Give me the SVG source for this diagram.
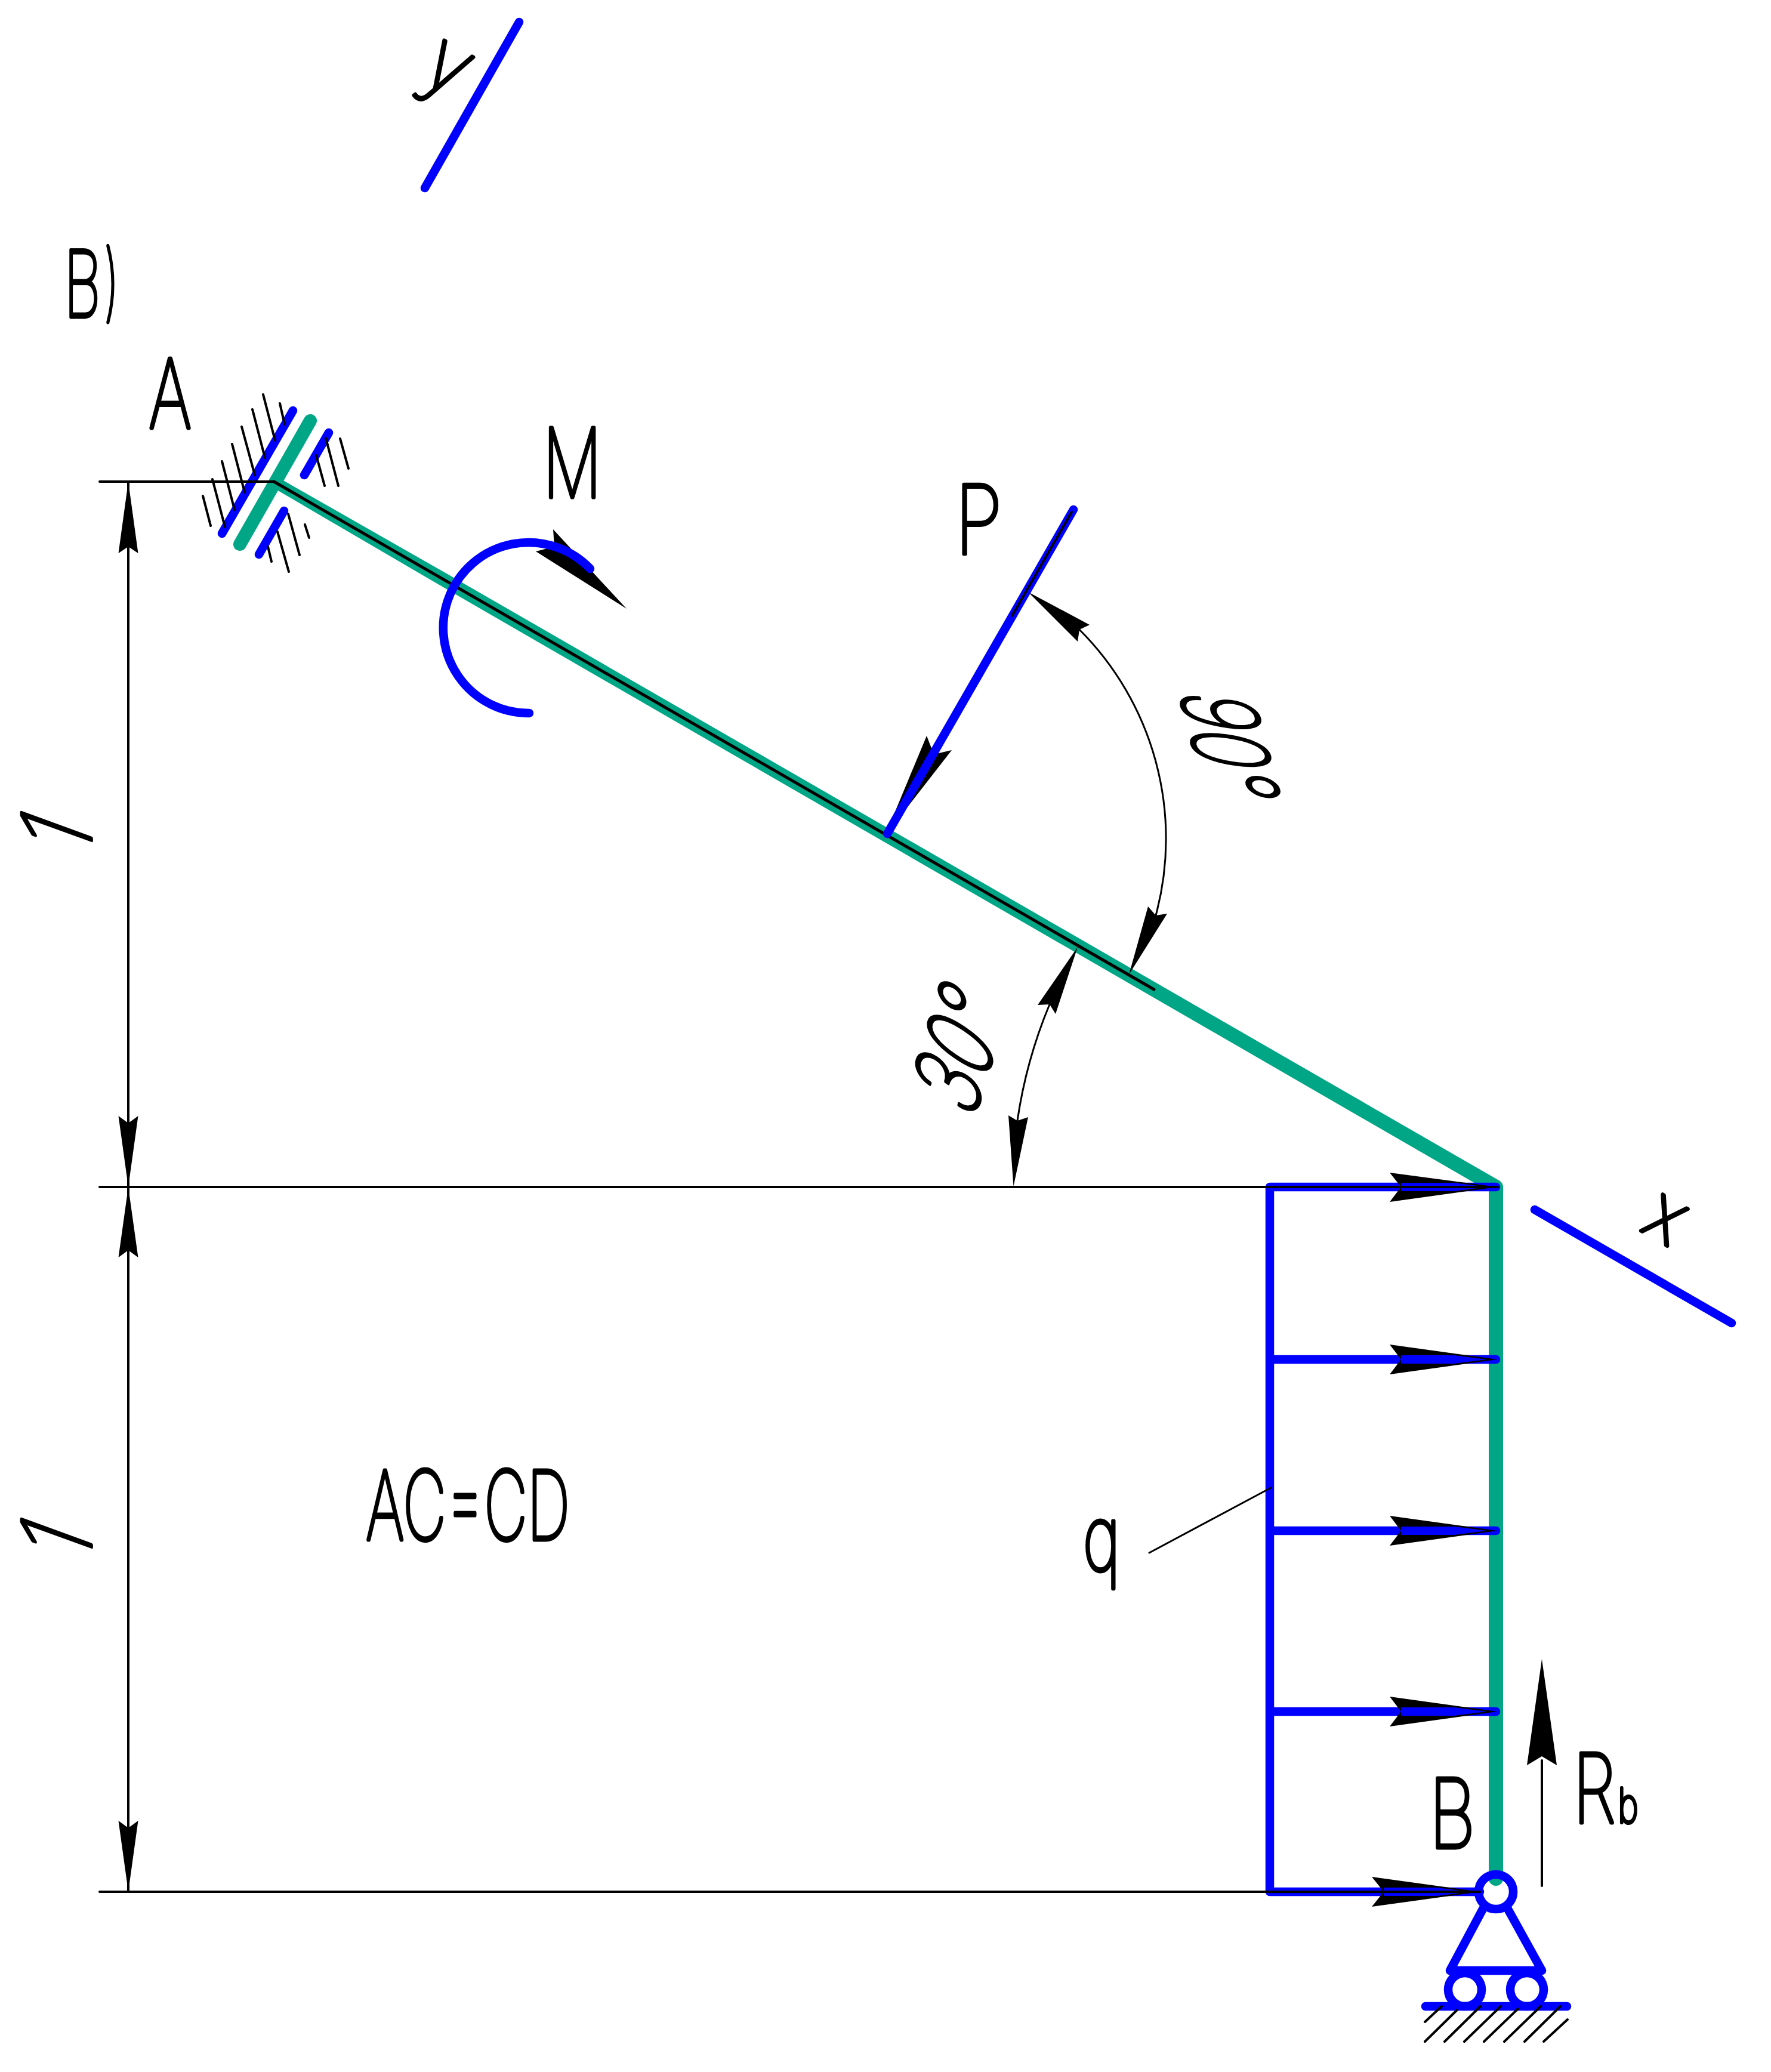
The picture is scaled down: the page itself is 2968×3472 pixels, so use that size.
<svg xmlns="http://www.w3.org/2000/svg" width="2968" height="3472" viewBox="0 0 2968 3472">
<style>
.bg{fill:#fff}
.g{fill:none;stroke:#00A685;stroke-width:24;stroke-linecap:round;stroke-linejoin:round}
.gf{fill:#00A685}
.b{fill:none;stroke:#0000FF;stroke-width:14.500;stroke-linecap:round;stroke-linejoin:round}
.k{fill:none;stroke:#000;stroke-width:4;stroke-linecap:round}
.t{fill:none;stroke:#000;stroke-width:3;stroke-linecap:round}
.h{fill:none;stroke:#000;stroke-width:4;stroke-linecap:round}
.a{fill:#000}
.w{fill:#0000FF}
text{font-family:"Inter","Liberation Sans",sans-serif;font-weight:100;font-size:160px;fill:#000;stroke:#000;stroke-width:6;stroke-linejoin:round;stroke-linecap:round;vector-effect:non-scaling-stroke}
.m{text-anchor:middle}
</style>
<rect class="bg" width="2968" height="3472"/>
<g id="support-a">
<path class="b" d="M491 688L372 894M551 725L510 796M476 856L434 929"/>
<path class="g" style="stroke-width:22" d="M520 705L402 912"/>
<path class="h" d="M441 661L461 738M469 676L477 711M423 686L444 767M405 715L427 796M389 744L410 825M372 773L393 854M356 803L377 883M340 831L353 881M570 735L584 785M546 734L567 814M530 763L544 814M483 861L502 930M465 891L484 958M449 916L455 941M511 879L518 901"/>
</g>
<g id="beam">
<circle cx="2507" cy="3170" r="29" fill="#fff"/>
<polygon class="gf" points="454.250,815.200 463.750,798.800 745.650,959.500 2513,1978.600 2501,1999.400 734.350,979.100"/>
<path class="g" d="M2507 1989V3148"/>
<path class="k" style="stroke-width:5" d="M459 807L1934 1658"/>
</g>
<g id="support-b">
<path class="b" d="M2485 3199L2430 3302M2527 3199L2584 3302M2430 3302H2584M2389 3362H2626"/>
<circle class="b" cx="2507" cy="3170" r="29"/>
<circle class="b" cx="2455" cy="3334" r="28"/>
<circle class="b" cx="2559" cy="3334" r="28"/>
<path class="h" d="M2416 3362L2388 3388M2442 3368L2388 3421M2481 3362L2421 3421M2515 3362L2454 3421M2544 3366L2487 3421M2582 3362L2521 3421M2615 3362L2555 3421M2627 3384L2587 3421"/>
</g>
<g id="connectors">
<g id="axes">
<path class="b" d="M870 37L712 315"/>
<path class="b" d="M2572 2027L2902 2217"/>
</g>
<g id="load-q">
<path class="b" d="M2128 1989V3170M2128 1989H2507M2128 2278H2507M2128 2565H2507M2128 2868H2507M2128 3170H2480"/>
<polygon class="a" points="2509,1989 2329,2014 2348,1989 2329,1965"/>
<polygon class="a" points="2509,2278 2329,2303 2348,2278 2329,2253"/>
<polygon class="a" points="2509,2565 2329,2590 2348,2565 2329,2540"/>
<polygon class="a" points="2509,2868 2329,2893 2348,2868 2329,2843"/>
<polygon class="a" points="2480,3170 2299,3195 2319,3170 2299,3145"/>
<polygon class="w" points="2348,1982 2437,1982 2492,1989 2437,1996 2348,1996"/>
<polygon class="w" points="2348,2271 2437,2271 2492,2278 2437,2285 2348,2285"/>
<polygon class="w" points="2348,2558 2437,2558 2492,2565 2437,2572 2348,2572"/>
<polygon class="w" points="2348,2861 2437,2861 2492,2868 2437,2875 2348,2875"/>
<polygon class="w" points="2319,3163 2408,3163 2463,3170 2408,3177 2319,3177"/>
</g>
<g id="dimensions">
<path class="k" d="M167 807H459M167 1989H2510M167 3170H2480M215 807V3170"/>
<polygon class="a" points="215,807 231.500,927 215,916 198.500,927"/>
<polygon class="a" points="215,1989 231.500,1870 215,1882 198.500,1870"/>
<polygon class="a" points="215,1989 231.500,2107 215,2095 198.500,2107"/>
<polygon class="a" points="215,3170 231.500,3051 215,3063 198.500,3051"/>
<path class="t" d="M1809 1055A495 495 0 0 1 1937 1534"/>
<polygon class="a" points="1723,992 1826,1047 1809,1055 1806,1075"/>
<polygon class="a" points="1892,1633 1924,1519 1937,1534 1956,1531"/>
<path class="t" d="M1759 1683A808 808 0 0 0 1705 1878"/>
<polygon class="a" points="1806,1587 1739,1684 1759,1683 1769,1699"/>
<polygon class="a" points="1698.500,1988 1690,1869 1705,1878 1723,1872"/>
<path class="t" d="M1926 2602L2130 2493"/>
</g>
<g id="force-p">
<polygon class="a" points="1483,1401 1553,1233 1565,1264 1595,1257"/>
<path class="b" d="M1799 854L1487 1397"/>
<path class="k" d="M1796 858L1696 1032"/>
</g>
<g id="moment-m">
<polygon class="a" points="1050,1020 927,887 929,916 898,924"/>
<path class="b" d="M887 1195A143 143 0 1 1 989 953"/>
</g>
<g id="reaction-rb">
<path class="k" d="M2584 2950V3160"/>
<polygon class="a" points="2584,2780 2609,2958 2584,2943 2559,2958"/>
</g>
</g>
<g id="labels">
<text id="label-v" transform="translate(107,531) scale(.55,1)"><tspan font-size="205">в</tspan><tspan font-size="141" dy="-10" dx="10">)</tspan></text>
<text id="label-y" class="m" style="font-size:142px" transform="translate(742,128) rotate(30) scale(.9,1)" y="24">y</text>
<text id="label-x" class="m" style="font-size:130px" transform="translate(2790,2044) rotate(30) scale(.9,1)" y="36">x</text>
<text id="label-A" class="m" transform="translate(285,717) scale(.7,1)">A</text>
<text id="label-M" class="m" transform="translate(959,833) scale(.69,1)">M</text>
<text id="label-P" class="m" transform="translate(1640,928) scale(.82,1)">P</text>
<text id="label-q" class="m" style="font-size:150px" transform="translate(1846,2631) scale(.72,1)">q</text>
<text id="label-B" class="m" transform="translate(2434,3096) scale(.76,1)">B</text>
<text id="label-Rb" transform="translate(2636,3054) scale(.73,1)">R<tspan font-size="80" dx="5">b</tspan></text>
<text id="label-AC" class="m" transform="translate(784,2580) scale(.625,1)">AC=CD</text>
<text id="label-1a" transform="translate(153,1405) rotate(-90) skewX(-20)" x="-40">1</text>
<text id="label-1b" transform="translate(153,2589) rotate(-90) skewX(-20)" x="-40">1</text>
<text id="label-90" transform="translate(1975,1155) rotate(75) skewX(-23) scale(.7,1)">90°</text>
<text id="label-30" transform="translate(1630,1878) rotate(-73) skewX(-17) scale(.72,1)">30°</text>
</g>
</svg>
